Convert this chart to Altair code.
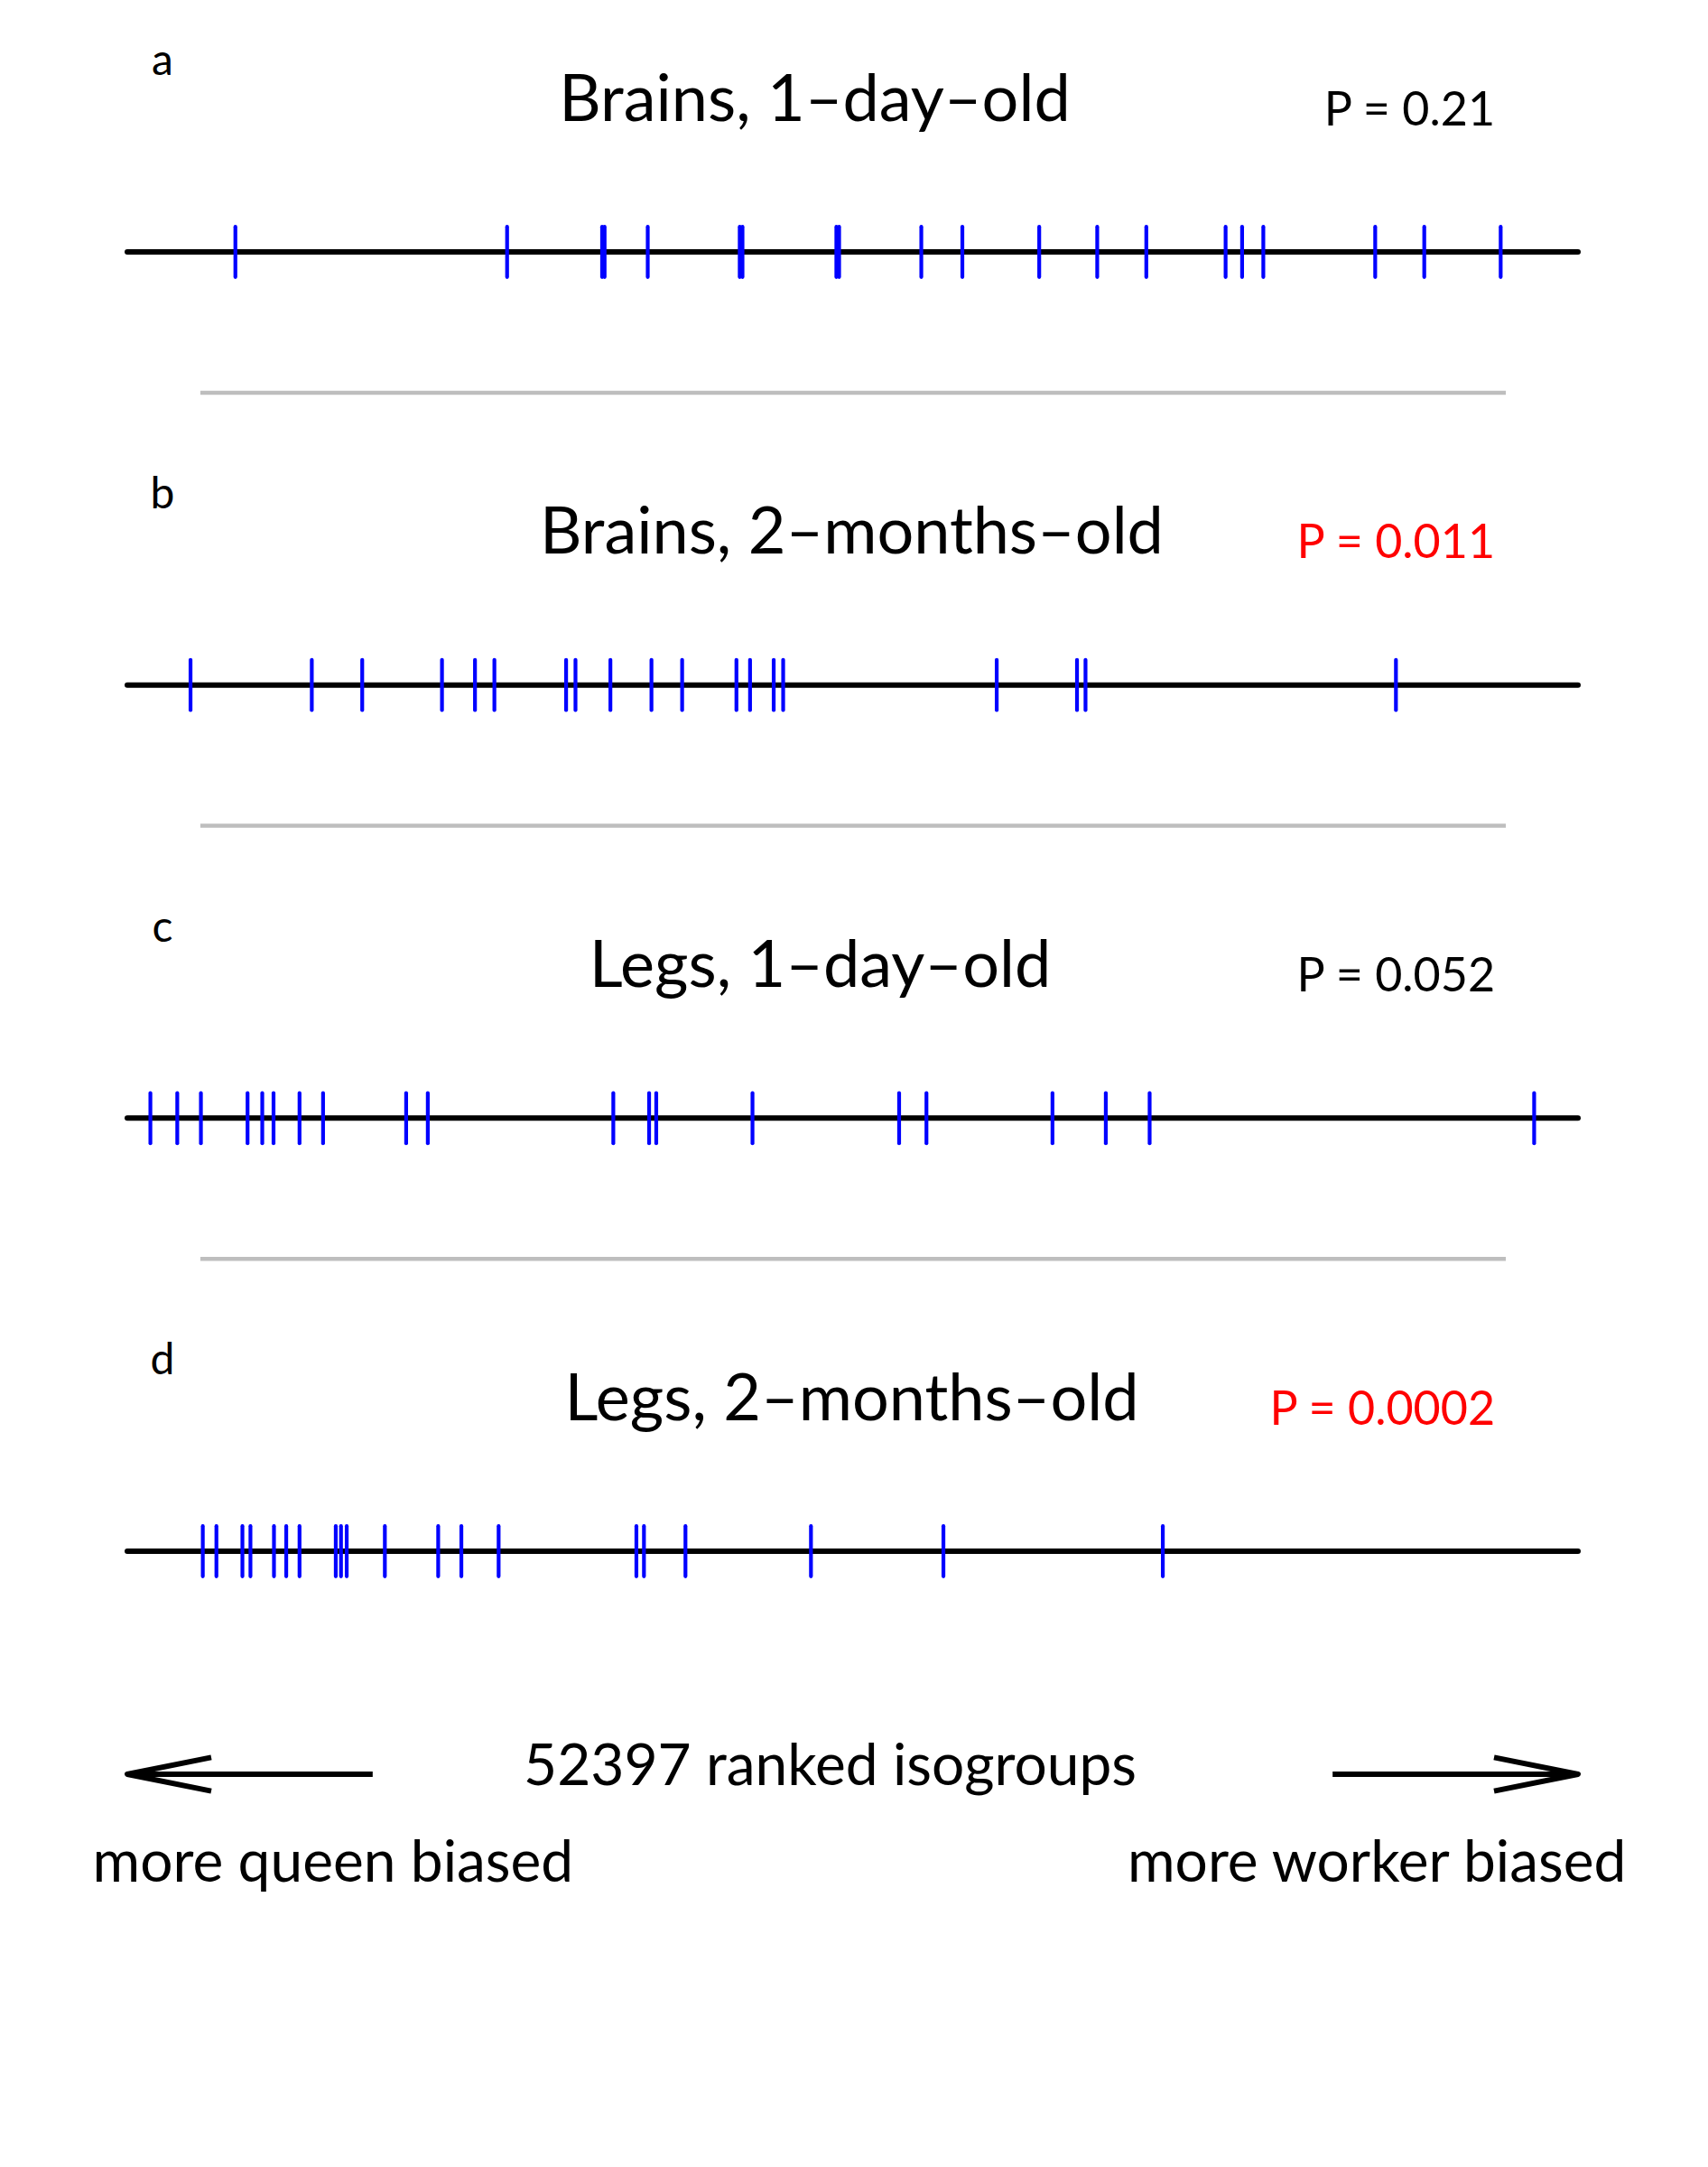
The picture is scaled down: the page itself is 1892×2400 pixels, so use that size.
import altair as alt
import pandas as pd

N_ISOGROUPS = 52397

# ranks of genes (position along the ranked list)
ticks_a = [3904, 13718, 17150, 17240, 18798, 22120, 22220, 25610, 25710, 28678, 30161,
           32937, 35032, 36805, 39669, 40265, 41031, 45072, 46844, 49604]
ticks_b = [2284, 6664, 8485, 11366, 12558, 13259, 15849, 16188, 17449, 18932, 20040,
           22001, 22493, 23347, 23689, 31402, 34302, 34609, 45821]
ticks_c = [834, 1805, 2659, 4344, 4875, 5282, 6221, 7071, 10072, 10854, 17554, 18847,
           19105, 22581, 27877, 28864, 33416, 35342, 36925, 50813]
ticks_d = [2727, 3219, 4158, 4448, 5298, 5741, 6221, 7530, 7719, 7925, 9303, 11229,
           12066, 13412, 18388, 18661, 20160, 24693, 29477, 37401]

panel_letters = ["a", "b", "c", "d"]
panel_titles = ["Brains, 1\u2013day\u2013old", "Brains, 2\u2013months\u2013old",
                "Legs, 1\u2013day\u2013old", "Legs, 2\u2013months\u2013old"]
title_centers = [24830, 26166, 25025, 26166]
p_labels = ["P = 0.21", "P = 0.011", "P = 0.052", "P = 0.0002"]
p_colors = ["#000000", "#FF0000", "#000000", "#FF0000"]

axis_label = "52397 ranked isogroups"
left_label = "more queen biased"
right_label = "more worker biased"

FONT = "Lato"

# ---- tables ----
rows = []
for i, t in enumerate([ticks_a, ticks_b, ticks_c, ticks_d]):
    for r in t:
        rows.append({"rank": r, "track": i})
ticks_df = pd.DataFrame(rows)

tracks_df = pd.DataFrame({"track": [0, 1, 2, 3], "start": [0] * 4, "end": [N_ISOGROUPS] * 4})
sep_df = pd.DataFrame({"track": [0, 1, 2], "start": [2639] * 3, "end": [49790] * 3})
titles_df = pd.DataFrame({"track": [0, 1, 2, 3], "x": title_centers, "label": panel_titles})
p_df = pd.DataFrame({"track": [0, 1, 2, 3], "x": [49399] * 4, "label": p_labels, "color": p_colors})
letters_df = pd.DataFrame({"track": [0, 1, 2, 3], "x": [1271] * 4, "label": panel_letters})

xs = alt.Scale(domain=[0, N_ISOGROUPS], range=[133, 1740], nice=False, zero=False)
ys = alt.Scale(domain=[0, 3], range=[271, 1710], nice=False, zero=False)

def X(f):
    return alt.X(f, type="quantitative", scale=xs, axis=None)

def Y(f):
    return alt.Y(f, type="quantitative", scale=ys, axis=None)

lines = alt.Chart(tracks_df).mark_rule(color="black", strokeWidth=6, strokeCap="round").encode(
    x=X("start"), x2="end", y=Y("track"))

tick_marks = alt.Chart(ticks_df).transform_calculate(
    y0="datum.track - 0.058", y1="datum.track + 0.058"
).mark_rule(color="#0000FF", strokeWidth=4.2, strokeCap="round").encode(
    x=X("rank"), y=Y("y0"), y2="y1")

seps = alt.Chart(sep_df).transform_calculate(yy="datum.track + 0.325").mark_rule(
    color="#BEBEBE", strokeWidth=4.5).encode(x=X("start"), x2="end", y=Y("yy"))

titles = alt.Chart(titles_df).transform_calculate(yy="datum.track - 0.349").mark_text(
    font=FONT, fontSize=72, align="center", baseline="middle", color="black").encode(
    x=X("x"), y=Y("yy"), text="label:N")

pvals = alt.Chart(p_df).transform_calculate(yy="datum.track - 0.326").mark_text(
    font=FONT, fontSize=52, align="right", baseline="middle").encode(
    x=X("x"), y=Y("yy"), text="label:N", color=alt.Color("color:N", scale=None))

letters = alt.Chart(letters_df).transform_calculate(yy="datum.track - 0.437").mark_text(
    font=FONT, fontSize=48, align="center", baseline="middle", color="black").encode(
    x=X("x"), y=Y("yy"), text="label:N")

# bottom annotation
arrow_df = pd.DataFrame({"start": [0, 43534], "end": [8863, N_ISOGROUPS], "yy": [3.515, 3.515]})
arrows = alt.Chart(arrow_df).mark_rule(color="black", strokeWidth=6).encode(
    x=X("start"), x2="end", y=Y("yy"))
head_df = pd.DataFrame({"x": [0, N_ISOGROUPS], "yy": [3.515, 3.515],
                        "shape": ["M1,-0.2L0,0L1,0.2", "M-1,-0.2L0,0L-1,0.2"]})
heads = alt.Chart(head_df).mark_point(filled=False, color="black", strokeWidth=6,
                                      size=34596, opacity=1, strokeJoin="round").encode(
    x=X("x"), y=Y("yy"), shape=alt.Shape("shape:N", scale=None))

bottom_df = pd.DataFrame({"x": [25384, 7429, 45130], "yy": [3.500, 3.723, 3.723],
                          "label": [axis_label, left_label, right_label]})
bottom_text = alt.Chart(bottom_df).mark_text(
    font=FONT, fontSize=64, align="center", baseline="middle", color="black").encode(
    x=X("x"), y=Y("yy"), text="label:N")

chart = alt.layer(seps, lines, tick_marks, titles, pvals, letters, arrows, heads, bottom_text).properties(
    width=1876, height=2384, autosize="none", padding=0
).configure_view(stroke=None)

chart.save("out.html", embed_options={"renderer": "svg", "actions": False})
